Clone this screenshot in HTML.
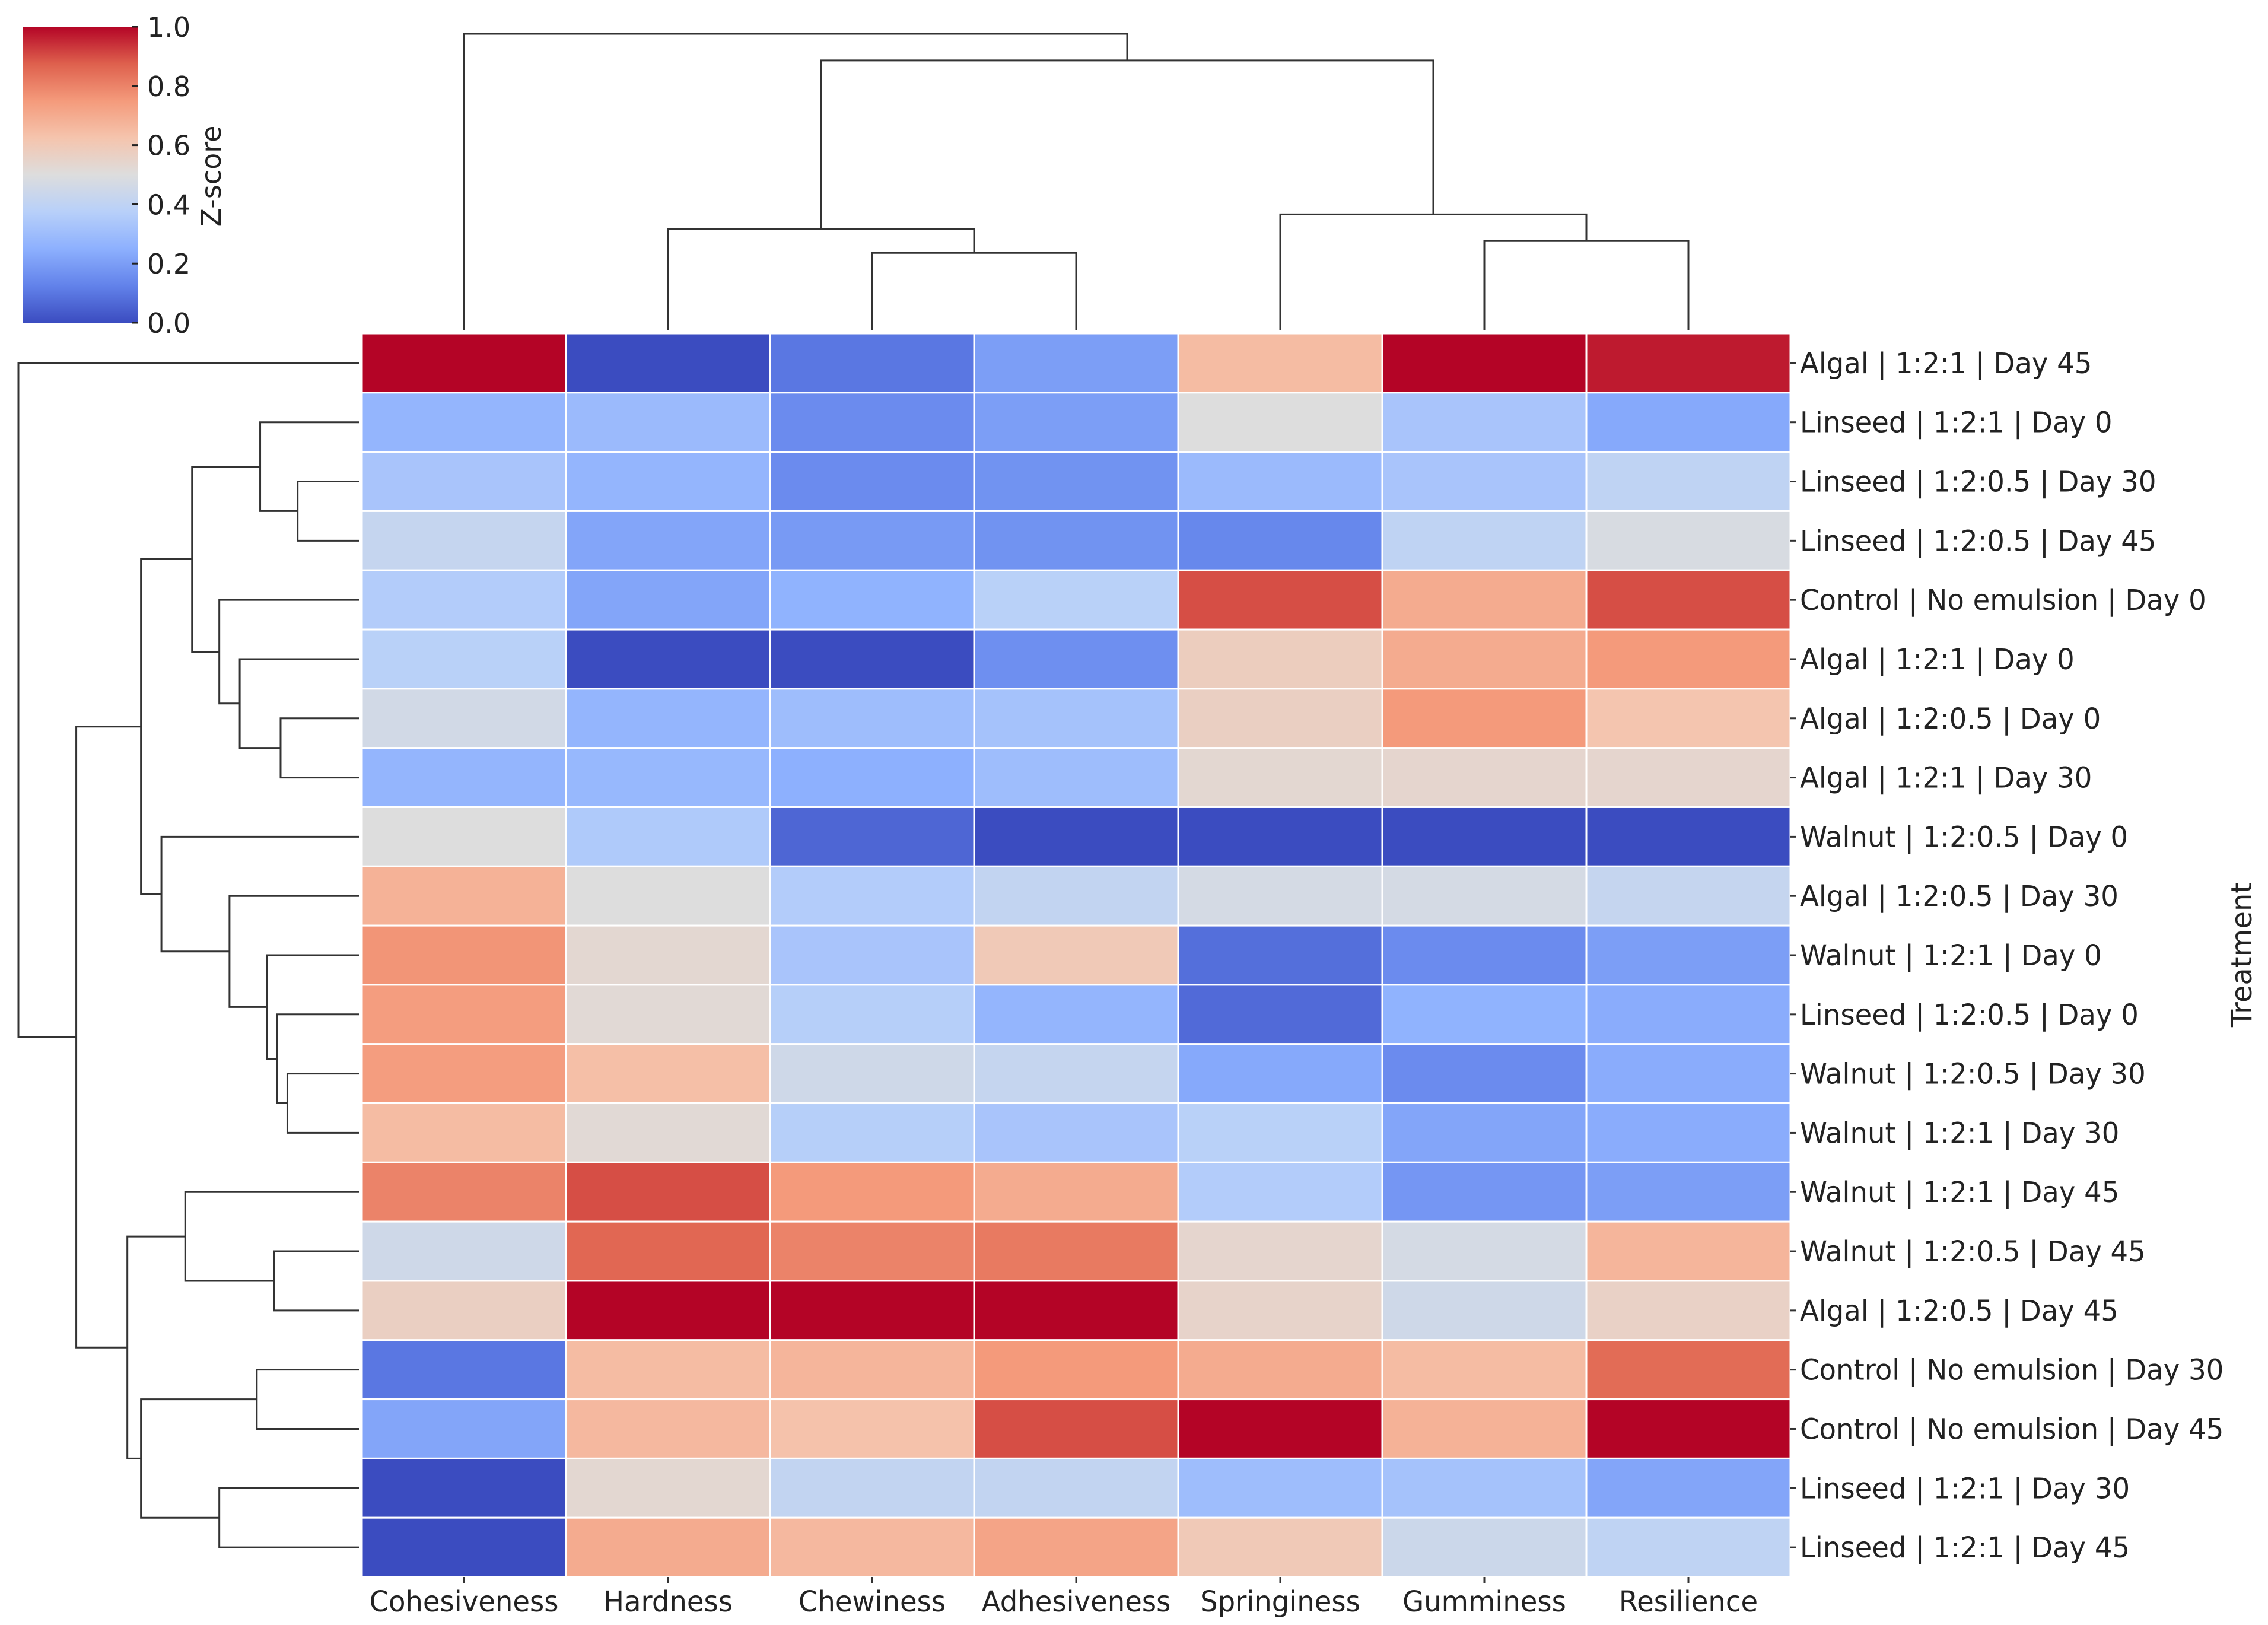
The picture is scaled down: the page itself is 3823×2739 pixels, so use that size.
<!DOCTYPE html>
<html><head><meta charset="utf-8">
<style>
html,body{margin:0;padding:0;background:#fff;}
svg{display:block;}
text{font-family:"DejaVu Sans","Liberation Sans",sans-serif;fill:#222;}
</style></head>
<body>
<svg id="chart" width="3823" height="2739" viewBox="0 0 3823 2739" xmlns="http://www.w3.org/2000/svg">
<defs>
<linearGradient id="cbgrad" x1="0" y1="1" x2="0" y2="0">
<stop offset="0" stop-color="rgb(59,76,192)"/>
<stop offset="0.125" stop-color="rgb(98,130,234)"/>
<stop offset="0.25" stop-color="rgb(141,176,254)"/>
<stop offset="0.375" stop-color="rgb(184,208,249)"/>
<stop offset="0.5" stop-color="rgb(221,221,221)"/>
<stop offset="0.625" stop-color="rgb(245,196,173)"/>
<stop offset="0.75" stop-color="rgb(244,154,123)"/>
<stop offset="0.875" stop-color="rgb(222,96,77)"/>
<stop offset="1" stop-color="rgb(180,4,38)"/>
</linearGradient>
</defs>
<g id="heat"></g>
<g id="rowdend"></g>
<g id="coldend"></g>
<g id="labels"></g>
<g id="cbar">
<rect x="38" y="45" width="194" height="499" fill="url(#cbgrad)"/>
</g>
</svg>
<script>
const columns = ["Cohesiveness","Hardness","Chewiness","Adhesiveness","Springiness","Gumminess","Resilience"];
const rows = ["Algal | 1:2:1 | Day 45","Linseed | 1:2:1 | Day 0","Linseed | 1:2:0.5 | Day 30","Linseed | 1:2:0.5 | Day 45","Control | No emulsion | Day 0","Algal | 1:2:1 | Day 0","Algal | 1:2:0.5 | Day 0","Algal | 1:2:1 | Day 30","Walnut | 1:2:0.5 | Day 0","Algal | 1:2:0.5 | Day 30","Walnut | 1:2:1 | Day 0","Linseed | 1:2:0.5 | Day 0","Walnut | 1:2:0.5 | Day 30","Walnut | 1:2:1 | Day 30","Walnut | 1:2:1 | Day 45","Walnut | 1:2:0.5 | Day 45","Algal | 1:2:0.5 | Day 45","Control | No emulsion | Day 30","Control | No emulsion | Day 45","Linseed | 1:2:1 | Day 30","Linseed | 1:2:1 | Day 45"];
const values = [
[1.0,0.0,0.1,0.2,0.65,1.0,0.97],
[0.27,0.29,0.15,0.2,0.5,0.33,0.23],
[0.33,0.27,0.15,0.17,0.29,0.33,0.4],
[0.42,0.22,0.19,0.17,0.14,0.4,0.48],
[0.36,0.22,0.26,0.38,0.9,0.7,0.9],
[0.38,0.0,0.0,0.16,0.58,0.7,0.75],
[0.46,0.27,0.3,0.32,0.57,0.75,0.62],
[0.27,0.28,0.25,0.3,0.53,0.54,0.54],
[0.5,0.35,0.06,0.0,0.0,0.0,0.0],
[0.68,0.5,0.36,0.41,0.47,0.47,0.42],
[0.76,0.53,0.33,0.6,0.08,0.15,0.2],
[0.74,0.52,0.37,0.27,0.07,0.26,0.24],
[0.74,0.64,0.45,0.42,0.23,0.15,0.24],
[0.65,0.52,0.37,0.33,0.38,0.22,0.24],
[0.8,0.9,0.75,0.7,0.36,0.18,0.2],
[0.45,0.86,0.8,0.82,0.54,0.47,0.67],
[0.57,1.0,1.0,1.0,0.55,0.45,0.56],
[0.1,0.65,0.67,0.75,0.7,0.65,0.85],
[0.22,0.66,0.63,0.9,1.0,0.68,1.0],
[0.0,0.53,0.41,0.41,0.3,0.32,0.22],
[0.0,0.7,0.66,0.72,0.6,0.44,0.4]
];
const cbTicks = [0.0,0.2,0.4,0.6,0.8,1.0];
const cbTickLabels = ["0.0","0.2","0.4","0.6","0.8","1.0"];
const rowTree = [0,[[[[1,[2,3,0.18],0.29],[4,[5,[6,7,0.23],0.35],0.41],0.49],[8,[9,[10,[11,[12,13,0.21],0.24],0.27],0.38],0.58],0.64],[[14,[15,16,0.25],0.51],[[17,18,0.30],[19,20,0.41],0.64],0.68],0.83],1.0];
const colTree = [0,[[1,[2,3,0.26],0.34],[4,[5,6,0.30],0.39],0.91],1.0];

const NS="http://www.w3.org/2000/svg";
const HX0=610,HX1=3018,HY0=562,HY1=2658;
const cw=(HX1-HX0)/columns.length, rh=(HY1-HY0)/rows.length;
const colX=i=>HX0+cw*(i+0.5), rowY=i=>HY0+rh*(i+0.5);
const stops=[[59,76,192],[98,130,234],[141,176,254],[184,208,249],[221,221,221],[245,196,173],[244,154,123],[222,96,77],[180,4,38]];
function cmap(v){v=Math.max(0,Math.min(1,v));const p=v*8,i=Math.min(7,Math.floor(p)),t=p-i;const a=stops[i],b=stops[i+1];return `rgb(${a.map((c,k)=>Math.round(c+(b[k]-c)*t)).join(',')})`;}
function mk(tag,attrs,parent){const e=document.createElementNS(NS,tag);for(const k in attrs)e.setAttribute(k,attrs[k]);parent.appendChild(e);return e;}

const heat=document.getElementById('heat');
values.forEach((r,ri)=>r.forEach((v,ci)=>{
  const e=mk('rect',{x:HX0+ci*cw,y:HY0+ri*rh,width:cw,height:rh,fill:cmap(v),stroke:'#fff','stroke-width':3},heat);
  
  
}));

const labels=document.getElementById('labels');
rows.forEach((r,i)=>{
  mk('line',{x1:HX1,x2:HX1+10,y1:rowY(i),y2:rowY(i),stroke:'#333','stroke-width':3},labels);
  const g=mk('g',{transform:`translate(${HX1+16},${rowY(i)+17}) scale(0.97,1)`},labels);
  const t=mk('text',{x:0,y:0,'font-size':48},g);t.textContent=r;
  
  
});
columns.forEach((c,i)=>{
  mk('line',{x1:colX(i),x2:colX(i),y1:HY1,y2:HY1+10,stroke:'#333','stroke-width':3},labels);
  const g=mk('g',{transform:`translate(${colX(i)},${HY1+58}) scale(0.97,1)`},labels);
  const t=mk('text',{x:0,y:0,'font-size':48,'text-anchor':'middle'},g);t.textContent=c;
  
  
});
{const g=mk('g',{transform:`translate(3795,1609) rotate(-90)`},labels);
 const t=mk('text',{x:0,y:0,'font-size':48,'text-anchor':'middle'},g);t.textContent='Treatment';
 
 }

function drawTree(node,parent,horiz){
  if(typeof node==='number')return {pos:horiz?rowY(node):colX(node),h:0};
  const a=drawTree(node[0],parent,horiz),b=drawTree(node[1],parent,horiz),h=node[2];
  let d;
  if(horiz){const X=v=>605-v*574;
    d=`M${X(a.h)},${a.pos}H${X(h)}V${b.pos}H${X(b.h)}`;}
  else{const Y=v=>556-v*499;
    d=`M${a.pos},${Y(a.h)}V${Y(h)}H${b.pos}V${Y(b.h)}`;}
  const p=mk('path',{d:d,fill:'none',stroke:'#333','stroke-width':3},parent);
  
  
  return {pos:(a.pos+b.pos)/2,h:h};
}
drawTree(rowTree,document.getElementById('rowdend'),true);
drawTree(colTree,document.getElementById('coldend'),false);

const cbar=document.getElementById('cbar');
const cbY=v=>544-v*499;
cbTicks.forEach((v,i)=>{
  mk('line',{x1:222,x2:232,y1:cbY(v),y2:cbY(v),stroke:'#222','stroke-width':3},cbar);
  const g=mk('g',{transform:`translate(248,${cbY(v)+17})`},cbar);
  const t=mk('text',{x:0,y:0,'font-size':46},g);t.textContent=cbTickLabels[i];
  
  
});
{const g=mk('g',{transform:`translate(372,297) rotate(-90)`},cbar);
 const t=mk('text',{x:0,y:0,'font-size':46,'text-anchor':'middle'},g);t.textContent='Z-score';
 
 }
</script>
</body></html>
